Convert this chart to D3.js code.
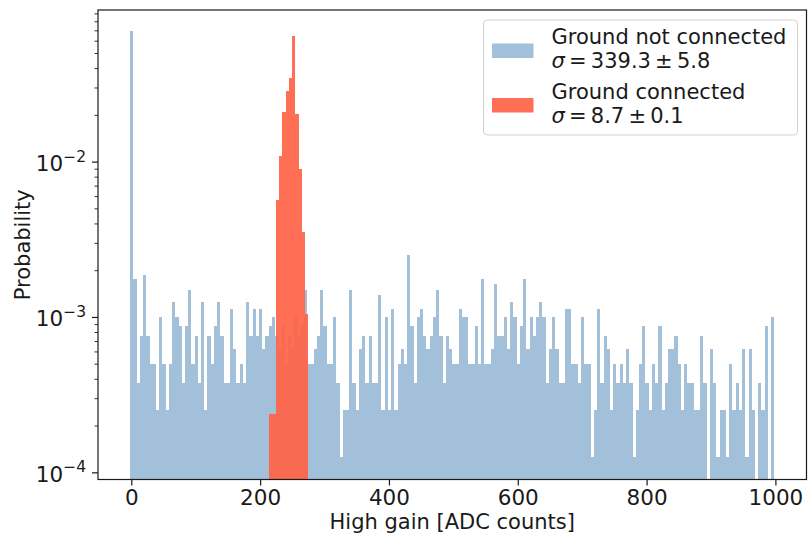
<!DOCTYPE html>
<html><head><meta charset="utf-8">
<script src="https://cdn.jsdelivr.net/npm/d3@7/dist/d3.min.js"></script>
<style>body{margin:0;background:#fff} svg{display:block}</style>
</head><body>
<svg id="chart" width="808" height="541"></svg>
<script>
// ---------------- data ----------------
// "Ground not connected": 200 bins of width 5 ADC counts, starting at -2.5 (entries per bin)
const blueBinStart = -2.5;
const blueBinWidth = 5;
const blueCounts = [
  554,14,3,6,15,6,4,4,2,8, 4,2,4,10,8,7,3,7,12,4,
  6,3,10,2,6,4,7,10,6,3, 3,9,5,3,4,3,10,6,9,6,
  9,5,6,7,8,6,5,7,4,6, 5,8,6,7,12,4,4,5,6,12,
  7,4,4,8,3,1,2,2,12,3, 2,5,6,3,6,3,3,11,2,8,
  2,9,2,4,5,4,20,7,3,8, 9,6,5,6,8,12,6,3,6,5,
  4,4,9,8,8,4,4,7,4,14, 4,4,5,13,6,6,8,5,10,8,
  4,7,14,5,8,6,8,10,8,3, 5,8,5,3,3,9,9,4,4,3,
  8,4,4,1,2,9,3,6,5,2, 4,3,4,3,5,3,1,2,4,7,
  3,2,4,3,7,2,3,5,5,6, 4,2,4,3,3,2,2,6,3,0,
  5,3,1,2,2,1,4,2,3,2, 5,1,5,2,0,3,2,7,0,8
];
const blueProbPerCount = 1.26e-4;   // probability of one entry in a bin

// "Ground connected": 12 bins
const redBinStart = 213.3;
const redBinWidth = 5.08;
const redProb = [2.4e-4, 2.4e-4, 5.7e-3, 0.0109, 0.0211, 0.0288, 0.0347, 0.0652, 0.0204, 0.0090, 0.00356, 0.00106];

const xTickValues = [0, 200, 400, 600, 800, 1000];
const yMajorExponents = [-4, -3, -2];
const legendNames = ["Ground not connected", "Ground connected"];
const legendSigmas = ["339.3 ± 5.8", "8.7 ± 0.1"];
const seriesColors = ["#a2c0da", "#ff6347"];

// ---------------- layout ----------------
const L = 98, R = 806.5, T = 10, B = 479.5;
const FONT = "DejaVu Sans, Verdana, sans-serif";
const svg = d3.select("#chart");

const x = d3.scaleLinear().domain([-52.5, 1047.5]).range([L, R]);
const y = d3.scaleLog().domain([Math.pow(10, -4.043), Math.pow(10, -1.021)]).range([B, T]);

svg.append("defs").append("clipPath").attr("id", "clip")
  .append("rect").attr("x", L).attr("y", T).attr("width", R - L).attr("height", B - T);

const plot = svg.append("g").attr("clip-path", "url(#clip)");

// blue histogram
const blueData = blueCounts.map((c, i) => ({
  x0: blueBinStart + i * blueBinWidth,
  x1: blueBinStart + (i + 1) * blueBinWidth,
  p: c * blueProbPerCount
})).filter(d => d.p > 0);

plot.append("g").selectAll("rect").data(blueData).join("rect")
  .attr("x", d => x(d.x0))
  .attr("width", d => x(d.x1) - x(d.x0))
  .attr("y", d => y(d.p))
  .attr("height", d => B - y(d.p))
  .attr("fill", seriesColors[0])
  .attr("shape-rendering", "crispEdges");

// red histogram
const redData = redProb.map((p, i) => ({
  x0: redBinStart + i * redBinWidth,
  x1: redBinStart + (i + 1) * redBinWidth,
  p: p
}));
plot.append("g").selectAll("rect").data(redData).join("rect")
  .attr("x", d => x(d.x0))
  .attr("width", d => x(d.x1) - x(d.x0))
  .attr("y", d => y(d.p))
  .attr("height", d => B - y(d.p))
  .attr("fill", seriesColors[1])
  .attr("fill-opacity", 0.92)
  .attr("shape-rendering", "crispEdges");

// ---------------- axes ----------------
const axisColor = "#1a1a1a";
// x ticks
const xAxis = svg.append("g");
xTickValues.forEach(v => {
  xAxis.append("line").attr("x1", x(v)).attr("x2", x(v)).attr("y1", B).attr("y2", B + 6)
    .attr("stroke", axisColor).attr("stroke-width", 1.2);
  xAxis.append("text").attr("x", x(v)).attr("y", 505).attr("text-anchor", "middle")
    .attr("font-family", FONT).attr("font-size", 21.5).attr("fill", axisColor).text(v);
});

// y ticks (major + minor)
const yAxis = svg.append("g");
const [yd0, yd1] = y.domain();
for (let e = -5; e <= -1; e++) {
  for (let m = 1; m <= 9; m++) {
    const v = m * Math.pow(10, e);
    if (v < yd0 || v > yd1) continue;
    const major = m === 1;
    yAxis.append("line").attr("x1", L).attr("x2", L - (major ? 6 : 3.5))
      .attr("y1", y(v)).attr("y2", y(v))
      .attr("stroke", axisColor).attr("stroke-width", major ? 1.2 : 0.9);
  }
}
yMajorExponents.forEach(e => {
  const v = Math.pow(10, e);
  const t = yAxis.append("text").attr("x", 86).attr("y", y(v) + 9)
    .attr("text-anchor", "end").attr("font-family", FONT).attr("fill", axisColor)
    .attr("font-size", 21.5);
  t.append("tspan").text("10");
  t.append("tspan").attr("font-size", 15.5).attr("dy", -9.5).text("\u2212" + Math.abs(e));
});

// frame
svg.append("rect").attr("x", L).attr("y", T).attr("width", R - L).attr("height", B - T)
  .attr("fill", "none").attr("stroke", axisColor).attr("stroke-width", 1.2);

// axis labels
svg.append("text").attr("x", (L + R) / 2).attr("y", 529).attr("text-anchor", "middle")
  .attr("font-family", FONT).attr("font-size", 21).attr("fill", axisColor)
  .text("High gain [ADC counts]");
svg.append("text").attr("transform", `translate(30,${(T + B) / 2}) rotate(-90)`)
  .attr("text-anchor", "middle").attr("font-family", FONT).attr("font-size", 21)
  .attr("fill", axisColor).text("Probability");

// ---------------- legend ----------------
const lg = svg.append("g");
lg.append("rect").attr("x", 483.5).attr("y", 20).attr("width", 314).attr("height", 115)
  .attr("rx", 4).attr("fill", "#fff").attr("fill-opacity", 0.8)
  .attr("stroke", "#d0d0d0").attr("stroke-width", 1);
legendNames.forEach((name, i) => {
  const y0 = 20 + i * 54.5;
  lg.append("rect").attr("x", 492).attr("y", y0 + 23.5).attr("width", 41.5).attr("height", 14.5)
    .attr("fill", seriesColors[i]).attr("fill-opacity", i === 1 ? 0.92 : 1);
  lg.append("text").attr("x", 551.5).attr("y", y0 + 24)
    .attr("font-family", FONT).attr("font-size", 21).attr("fill", axisColor).text(name);
  const s = lg.append("text").attr("x", 551.5).attr("y", y0 + 48)
    .attr("font-family", FONT).attr("font-size", 21).attr("fill", axisColor);
  s.append("tspan").attr("font-style", "italic").text("σ");
  s.append("tspan").text("\u2009=\u2009" + legendSigmas[i].replace(" ± ", "\u2009±\u2009"));
});
</script>
</body></html>
